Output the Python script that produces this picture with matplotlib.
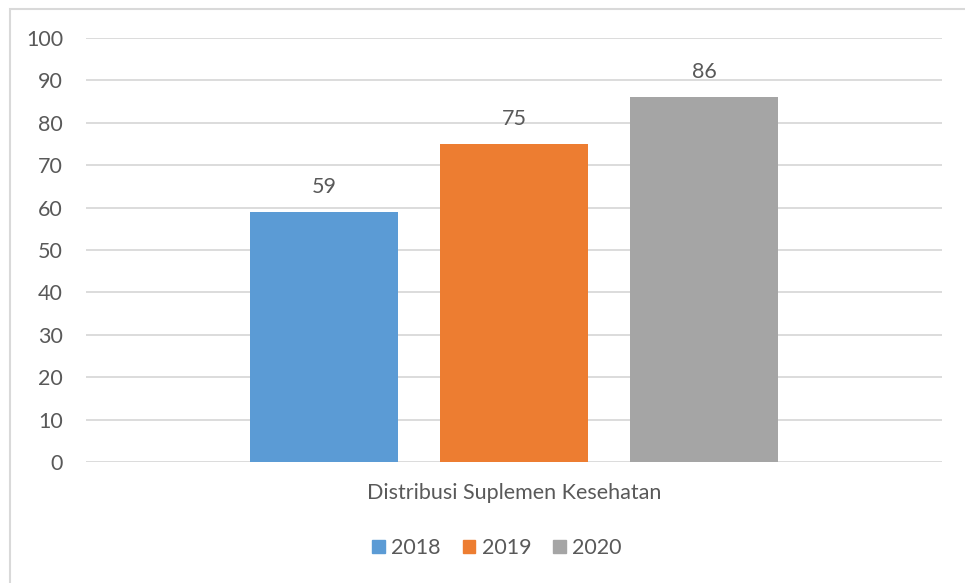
import matplotlib.pyplot as plt
from matplotlib.patches import Rectangle

plt.rcParams['font.family'] = ['Lato', 'DejaVu Sans']

category = 'Distribusi Suplemen Kesehatan'
years = ['2018', '2019', '2020']
values = [59, 75, 86]
colors = ['#5b9bd5', '#ed7d31', '#a5a5a5']
yticks = [0, 10, 20, 30, 40, 50, 60, 70, 80, 90, 100]

text_color = '#595959'
grid_color = '#d9d9d9'
fs = 15.5


def draw_chart():
    fig = plt.figure(figsize=(9.65, 5.83), dpi=100)

    # outer chart border (runs off the right and bottom edges)
    fig.patches.append(Rectangle((10 / 965, -0.05), 1.0, 1 - 9 / 583 + 0.05,
                                 transform=fig.transFigure, fill=False,
                                 edgecolor=grid_color, linewidth=1.5, zorder=0))

    ax = fig.add_axes([86 / 965, 1 - 462 / 583, 856 / 965, 424 / 583])

    x = range(len(years))
    bars = ax.bar(x, values, width=0.779, color=colors, zorder=3)
    handles = [Rectangle((0, 0), 1, 1, color=c) for c in colors]

    for rect, v in zip(bars, values):
        ax.annotate(str(v), (rect.get_x() + rect.get_width() / 2, v),
                    xytext=(0, 18), textcoords='offset points',
                    ha='center', va='center', fontsize=fs, color=text_color)

    ax.set_xlim(-1.253, 3.253)
    ax.set_ylim(0, 100)
    ax.set_yticks(yticks)
    ax.yaxis.grid(True, color=grid_color, linewidth=1.3, zorder=0)
    ax.set_xticks([])
    for s in ax.spines.values():
        s.set_visible(False)
    ax.tick_params(axis='y', length=0, pad=16.5, labelsize=fs, labelcolor=text_color)

    fig.text(514 / 965, 1 - 493 / 583, category, ha='center', va='center',
             fontsize=fs, color=text_color)

    fig.legend(handles, years, loc='center', bbox_to_anchor=(497 / 965, 1 - 548 / 583),
               ncol=3, frameon=False, fontsize=fs, labelcolor=text_color,
               handlelength=0.6, handleheight=0.6, handletextpad=0.3,
               columnspacing=1.0)

    fig.savefig('out.png', dpi=100)


if __name__ == "__main__":
    draw_chart()
